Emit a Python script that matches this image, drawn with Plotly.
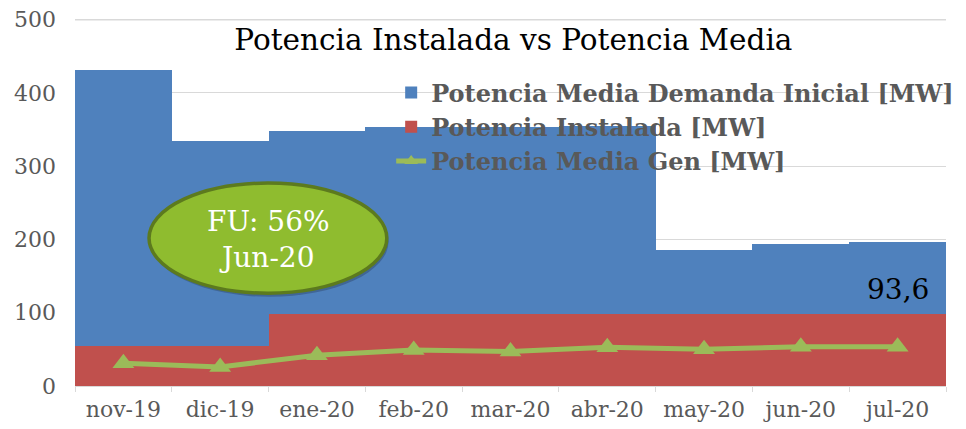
import plotly.graph_objects as go

meses = ["nov-19", "dic-19", "ene-20", "feb-20", "mar-20", "abr-20", "may-20", "jun-20", "jul-20"]
demanda_inicial = [432, 334, 348, 354, 353, 355, 185, 194, 197]
potencia_instalada = [55, 55, 98, 98, 98, 98, 98, 98, 98]
potencia_gen = [31, 26, 42, 49, 47, 53, 50, 53.5, 53.5]
etiqueta_final = "93,6"
texto_fu = "FU: 56%<br>Jun-20"
y_max = 500

FONT = "DejaVu Serif"
GRAY = "#595959"

fig = go.Figure()
fig.add_trace(go.Bar(x=meses, y=demanda_inicial, name="Potencia Media Demanda Inicial [MW]",
                     marker=dict(color="#4F81BD", line=dict(width=0))))
fig.add_trace(go.Bar(x=meses, y=potencia_instalada, name="Potencia Instalada [MW]",
                     marker=dict(color="#C0504D", line=dict(width=0))))
fig.add_trace(go.Scatter(x=meses, y=potencia_gen, name="Potencia Media Gen [MW]",
                         mode="lines+markers",
                         line=dict(color="#9BBB59", width=5),
                         marker=dict(symbol="triangle-up", size=19, color="#9BBB59")))

# top gridline
fig.add_shape(type="line", xref="paper", yref="y", x0=0, x1=1, y0=y_max, y1=y_max,
              line=dict(color="#D9D9D9", width=1.5), layer="below")

# shadow + ellipse
fig.add_shape(type="circle", xref="paper", yref="paper",
              x0=0.087, x1=0.360, y0=0.243, y1=0.545,
              fillcolor="rgba(30,40,60,0.30)", line=dict(width=0), layer="above")
fig.add_shape(type="circle", xref="paper", yref="paper",
              x0=0.085, x1=0.358, y0=0.253, y1=0.553,
              fillcolor="#8FBC2F", line=dict(color="#5C7A1E", width=3.5), layer="above")
fig.add_annotation(xref="paper", yref="paper", x=0.2216, y=0.398, text=texto_fu,
                   xanchor="center", yanchor="middle",
                   showarrow=False, font=dict(family=FONT, size=28, color="white"),
                   align="center")

fig.add_annotation(x=meses[-1], y=potencia_instalada[-1], yshift=25, text=etiqueta_final,
                   showarrow=False, yanchor="middle",
                   font=dict(family=FONT, size=28, color="black"))

fig.update_layout(
    width=958, height=421,
    margin=dict(l=67, r=20, t=11, b=43, autoexpand=False),
    paper_bgcolor="white", plot_bgcolor="white",
    barmode="overlay", bargap=0,
    title=dict(text="Potencia Instalada vs Potencia Media", x=0.5275, xanchor="center",
               y=0.925, yanchor="middle",
               font=dict(family=FONT, size=29.5, color="black")),
    font=dict(family=FONT, color=GRAY),
    legend=dict(x=0.363, y=0.86, xanchor="left", yanchor="top",
                bgcolor="rgba(0,0,0,0)",
                font=dict(family=FONT, size=24, color=GRAY, weight="bold"),
                tracegroupgap=0, itemsizing="constant"),
    showlegend=True,
)
fig.update_xaxes(type="category", showgrid=False, showline=True, linecolor="#D9D9D9",
                 ticks="outside", tickson="boundaries", ticklen=5, tickcolor="#D9D9D9",
                 tickfont=dict(family=FONT, size=22, color=GRAY), range=[-0.5, 8.5],
                 ticklabelstandoff=4, automargin=False)
fig.update_yaxes(range=[0, 501], tick0=0, dtick=100, showgrid=True, gridcolor="#D9D9D9",
                 zeroline=False, showline=False, automargin=False,
                 ticklabeloverflow="allow",
                 tickfont=dict(family=FONT, size=22, color=GRAY), ticklabelstandoff=18)

fig.write_html("out.html")
